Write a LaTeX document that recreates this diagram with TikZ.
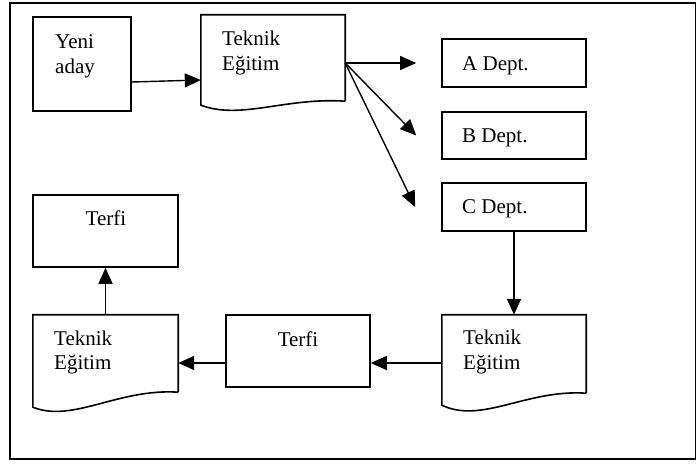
\documentclass[tikz,border=0pt]{standalone}
\usepackage{fontspec}
\setmainfont{Liberation Serif}
\usetikzlibrary{arrows.meta,calc}
% outline of a "document" flowchart symbol around an invisible node:
% #1 node, #2 drop of the lower left corner, #3 depth of the wave
\newcommand\wavydoc[3]{%
  \draw[line width=1.6pt] (#1.south east) -- (#1.north east) -- (#1.north west)
    -- ($(#1.south west)+(0,#2)$)
    .. controls ($(#1.south west)+(40,#3)$) and ($(#1.south east)+(-60,-4)$) .. (#1.south east);}
\begin{document}
\begin{tikzpicture}[x=1pt,y=-1pt,
  box/.style={draw, line width=1.6pt, rectangle, inner sep=0pt},
  docbox/.style={rectangle, inner sep=0pt},
  lbl/.style={inner sep=0pt, font=\fontsize{21}{24}\selectfont},
  flow/.style={line width=1.4pt, -{Triangle[length=16pt,width=14pt]}}]
\useasboundingbox (0,0) rectangle (697,465);
% outer frame
\draw[line width=1.8pt] (10,3) rectangle (695.5,459);

% boxes
\node[box, minimum width=98pt, minimum height=94pt] (yeni) at (82,64) {};
\node[docbox, minimum width=144pt, minimum height=86pt] (tdoc) at (273,58) {};
\node[box, minimum width=144pt, minimum height=48pt] (adept) at (514,63) {};
\node[box, minimum width=144pt, minimum height=47pt] (bdept) at (514,135.5) {};
\node[box, minimum width=144pt, minimum height=48pt] (cdept) at (514,207) {};
\node[docbox, minimum width=144pt, minimum height=78pt] (brdoc) at (514,354) {};
\node[box, minimum width=144pt, minimum height=72pt] (mterfi) at (298,351) {};
\node[docbox, minimum width=145pt, minimum height=77pt] (bldoc) at (105.5,353.5) {};
\node[box, minimum width=145pt, minimum height=72pt] (tlterfi) at (105.5,231) {};

\wavydoc{tdoc}{4}{19}
\wavydoc{brdoc}{12}{31}
\wavydoc{bldoc}{15}{31}

% texts
\node[lbl, anchor=base west] (t1) at (55,49) {Yeni};
\node[lbl, anchor=base west] (t2) at (55,74) {aday};
\node[lbl, anchor=base west] (t3) at (222,46) {Teknik};
\node[lbl, anchor=base west] (t4) at (222,71) {Eğitim};
\node[lbl, anchor=base west] (t5) at (462,70.5) {A Dept.};
\node[lbl, anchor=base west] (t6) at (462,142.5) {B Dept.};
\node[lbl, anchor=base west] (t7) at (462,214) {C Dept.};
\node[lbl, anchor=base west] (t8) at (463,345) {Teknik};
\node[lbl, anchor=base west] (t9) at (463,369.5) {Eğitim};
\node[lbl, anchor=base] (t10) at (298,346.5) {Terfi};
\node[lbl, anchor=base west] (t11) at (54,345.5) {Teknik};
\node[lbl, anchor=base west] (t12) at (54,370) {Eğitim};
\node[lbl, anchor=base] (t13) at (106,225.5) {Terfi};

% connectors
\coordinate (src) at ($(tdoc.east)+(0,5)$);
\coordinate (aend) at ($(adept.west)+(-25,0)$);
\coordinate (bend) at ($(bdept.west)+(-25,0)$);
\coordinate (cend) at ($(cdept.west)+(-26,0)$);
\draw[flow] ($(yeni.east)+(0,18)$) -- ($(tdoc.west)+(0,22)$);
\draw[flow] (src) -- (aend);
\draw[flow] (src) -- (bend);
\draw[flow] (src) -- (cend);
\draw[flow] (cdept.south) -- (brdoc.north);
\coordinate (r1) at ($(brdoc.west)+(0,9)$);
\draw[flow] (r1) -- (mterfi.east |- r1);
\draw[flow] (mterfi.west |- r1) -- (bldoc.east |- r1);
\draw[flow] (bldoc.north) -- (tlterfi.south);
\end{tikzpicture}
\end{document}
